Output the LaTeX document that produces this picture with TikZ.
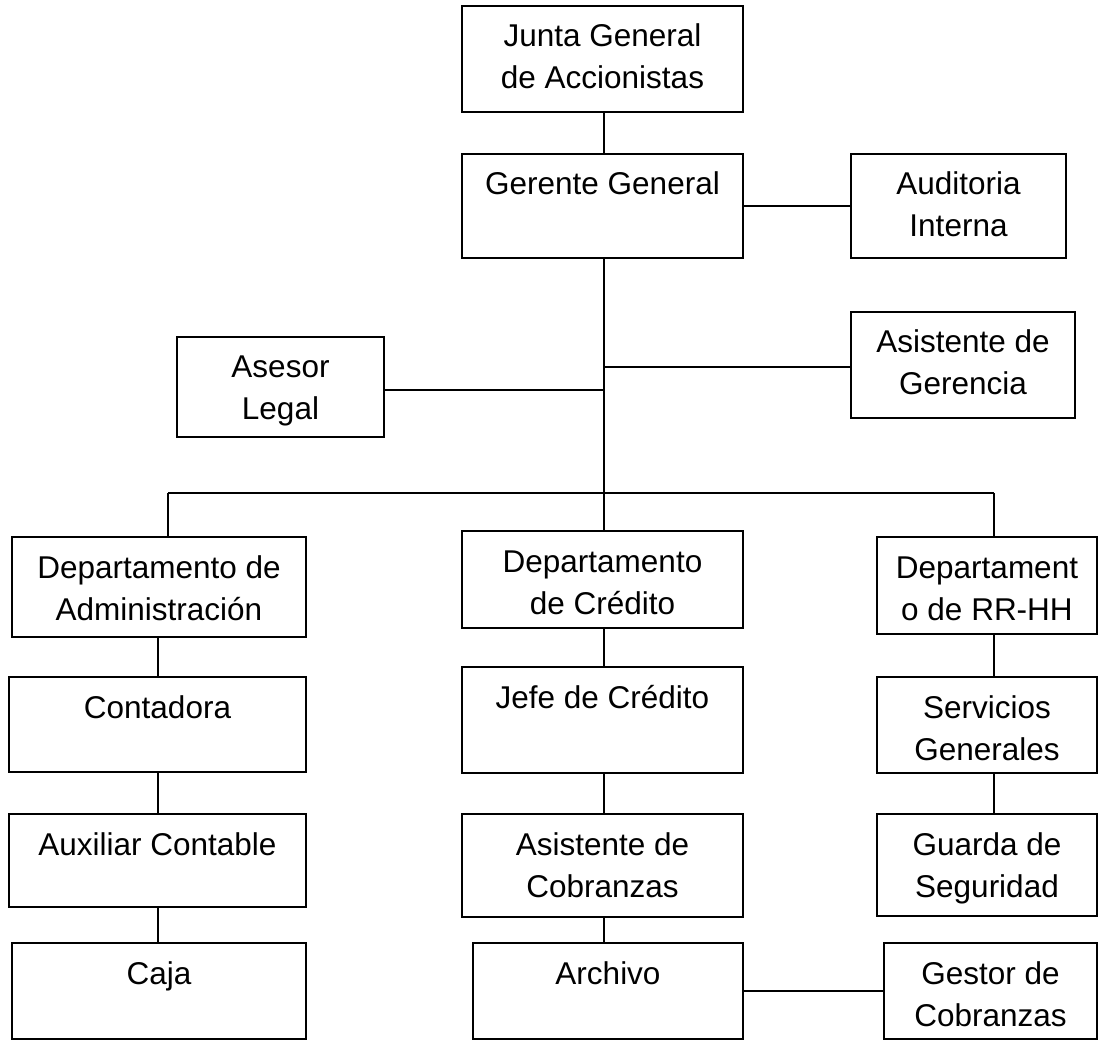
\documentclass[tikz,border=0pt]{standalone}
\usepackage{fontspec}
\setmainfont{Liberation Sans}
\tikzset{
  obox/.style={draw, line width=2pt, inner sep=0pt, outer sep=0pt, anchor=north west,
    font=\fontsize{31.5}{42}\selectfont},
  conn/.style={line width=2pt}
}
% name, left, top, right, bottom, text
\newcommand\orgbox[6]{%
  \node[obox] (#1) at (#2,#3)
    {\parbox[t][\dimexpr#5pt-#3pt\relax][t]{\dimexpr#4pt-#2pt\relax}{\centering\rule{0pt}{41pt}#6\par}};}
\begin{document}
\begin{tikzpicture}[x=1pt,y=-1pt]
\useasboundingbox (0,0) rectangle (1098,1040);
\fill[white] (0,0) rectangle (1098,1040);
\orgbox{junta}{462}{6}{743}{112}{Junta General\\de Accionistas}
\orgbox{gerente}{462}{154}{743}{258}{Gerente General}
\orgbox{audit}{851}{154}{1066}{258}{Auditoria\\Interna}
\orgbox{asesor}{177}{337}{384}{437}{Asesor\\Legal}
\orgbox{asistG}{851}{312}{1075}{418}{Asistente de\\Gerencia}
\orgbox{dadm}{12}{537}{306}{637}{Departamento de\\Administración}
\orgbox{dcred}{462}{531}{743}{628}{Departamento\\de Crédito}
\orgbox{drrhh}{877}{537}{1097}{634}{Departament\\o de RR-HH}
\orgbox{conta}{9}{677}{306}{772}{Contadora}
\orgbox{jefe}{462}{667}{743}{773}{Jefe de Crédito}
\orgbox{serv}{877}{677}{1097}{773}{Servicios\\Generales}
\orgbox{aux}{9}{814}{306}{907}{Auxiliar Contable}
\orgbox{asisC}{462}{814}{743}{917}{Asistente de\\Cobranzas}
\orgbox{guarda}{877}{814}{1097}{916}{Guarda de\\Seguridad}
\orgbox{caja}{12}{943}{306}{1039}{Caja}
\orgbox{arch}{473}{943}{743}{1039}{Archivo}
\orgbox{gestor}{884}{943}{1097}{1039}{Gestor de\\Cobranzas}

\coordinate (spine) at (604,0);
\coordinate (colL) at (158,0);
\coordinate (colR) at (994,0);
\coordinate (busL) at (168,493);
\coordinate (busM) at (604,493);
\coordinate (busR) at (994,493);

\draw[conn] (junta.south -| spine) -- (gerente.north -| spine);
\draw[conn] (gerente.east) -- (audit.west);
\draw[conn] (gerente.south -| spine) -- (busM);
\draw[conn] ([yshift=-3pt]asesor.east) -- ([yshift=-3pt]asesor.east -| spine);
\draw[conn] ([yshift=-2pt]asistG.west) -- ([yshift=-2pt]asistG.west -| spine);
\draw[conn] (busL) -- (busR);
\draw[conn] (busL) -- (dadm.north -| busL);
\draw[conn] (busM) -- (dcred.north -| busM);
\draw[conn] (busR) -- (drrhh.north -| busR);
\draw[conn] (dadm.south -| colL) -- (conta.north -| colL);
\draw[conn] (conta.south -| colL) -- (aux.north -| colL);
\draw[conn] (aux.south -| colL) -- (caja.north -| colL);
\draw[conn] (dcred.south -| spine) -- (jefe.north -| spine);
\draw[conn] (jefe.south -| spine) -- (asisC.north -| spine);
\draw[conn] (asisC.south -| spine) -- (arch.north -| spine);
\draw[conn] (drrhh.south -| colR) -- (serv.north -| colR);
\draw[conn] (serv.south -| colR) -- (guarda.north -| colR);
\draw[conn] (arch.east) -- (gestor.west);
\end{tikzpicture}
\end{document}
